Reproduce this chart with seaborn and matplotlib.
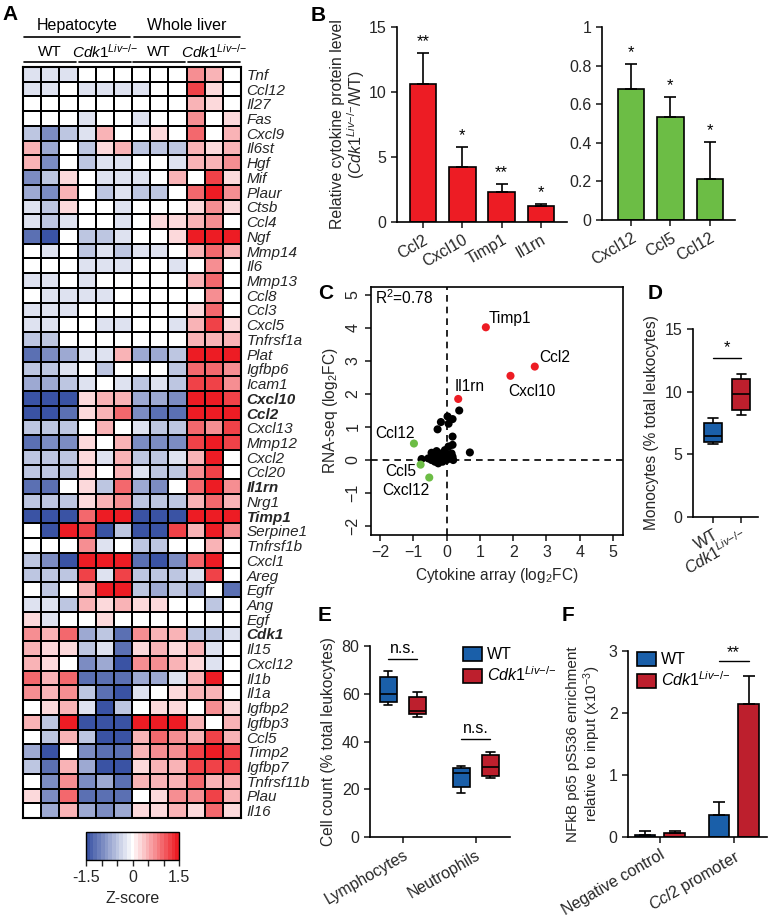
import numpy as np
import pandas as pd
import matplotlib
matplotlib.use('Agg')
import matplotlib.pyplot as plt
from matplotlib.colors import LinearSegmentedColormap
from matplotlib.patches import Patch
import seaborn as sns

# ---------------- data ----------------
genes = ['Tnf', 'Ccl12', 'Il27', 'Fas', 'Cxcl9', 'Il6st', 'Hgf', 'Mif', 'Plaur', 'Ctsb',
         'Ccl4', 'Ngf', 'Mmp14', 'Il6', 'Mmp13', 'Ccl8', 'Ccl3', 'Cxcl5', 'Tnfrsf1a', 'Plat',
         'Igfbp6', 'Icam1', 'Cxcl10', 'Ccl2', 'Cxcl13', 'Mmp12', 'Cxcl2', 'Ccl20', 'Il1rn', 'Nrg1',
         'Timp1', 'Serpine1', 'Tnfrsf1b', 'Cxcl1', 'Areg', 'Egfr', 'Ang', 'Egf', 'Cdk1', 'Il15',
         'Cxcl12', 'Il1b', 'Il1a', 'Igfbp2', 'Igfbp3', 'Ccl5', 'Timp2', 'Igfbp7', 'Tnfrsf11b',
         'Plau', 'Il16']
bold_genes = ['Cxcl10', 'Ccl2', 'Il1rn', 'Timp1', 'Cdk1']
samples = ['hep_wt1', 'hep_wt2', 'hep_wt3', 'hep_ko1', 'hep_ko2', 'hep_ko3',
           'liv_wt1', 'liv_wt2', 'liv_wt3', 'liv_ko1', 'liv_ko2', 'liv_ko3']
# z-scores, in quarter steps (6 -> 1.5)
z_quarters = [
    [-1, -1, -1, 0, 0, 0, 0, 0, 0, 3, 2, 0],
    [-1, -1, 0, -1, -1, -1, -1, 0, 0, 5, 1, 0],
    [0, 0, 0, 0, 0, 0, 0, 0, 0, 2, 1, 0],
    [0, 0, 0, -1, 0, 0, -1, 0, 0, 3, 0, 1],
    [-2, -4, -2, -1, 2, 0, 0, 1, 0, 4, 0, 2],
    [2, -3, 0, -2, 1, 2, -2, -2, -2, 2, 1, 2],
    [2, -4, 0, -2, -1, -1, 0, 0, -1, 2, 2, 3],
    [-4, -2, 1, 0, -1, -1, -1, 0, 2, 0, 5, 1],
    [-3, -4, 2, 0, -2, -1, -2, -2, 0, 4, 6, 3],
    [-1, -2, 1, 0, 0, -1, 0, 0, 0, 1, 3, 1],
    [-1, -2, -1, 0, 0, -1, 0, 1, 1, 2, 3, 0],
    [-5, -6, 0, -2, -2, -1, 0, 0, 1, 6, 6, 6],
    [0, -1, 0, -2, -1, -2, -1, -1, 0, 2, 4, 2],
    [0, 0, 0, -1, -1, -1, 0, 0, -1, 0, 3, 0],
    [-1, -1, 0, -1, 0, 0, 0, 0, 0, 2, 4, 0],
    [0, -1, -1, -1, -1, 0, 0, 0, 0, 0, 3, 0],
    [-1, -1, -1, 0, 0, 0, 0, 0, 0, 1, 4, 0],
    [-1, -1, 0, 0, -1, -1, 0, 0, -1, 2, 5, 1],
    [-2, -2, 0, 0, 0, 0, 0, 0, 0, 2, 2, 2],
    [-5, -4, -3, -1, -1, 2, -3, -3, -2, 6, 6, 6],
    [-2, -2, -1, 0, -2, 0, 0, 0, -2, 4, 4, 3],
    [-3, -3, -2, -1, 0, -1, -2, -1, -2, 5, 5, 3],
    [-6, -6, -6, 1, 2, 2, -3, -3, -4, 6, 6, 5],
    [-6, -6, -5, 1, 2, 4, -4, -5, -5, 6, 6, 6],
    [-2, -2, -2, 0, 2, 0, -1, -2, -2, 4, 3, 5],
    [-5, -4, -4, 1, 0, 2, -4, -4, -4, 5, 6, 5],
    [-2, -2, -2, 1, -1, 2, -2, -2, -1, 2, 6, 0],
    [-2, -2, -2, 1, 0, 2, -1, -2, -2, 3, 5, 0],
    [-5, -5, 0, 1, -2, 4, -3, -4, 0, 4, 6, 3],
    [-2, -2, -2, 1, 2, 3, -2, -2, -2, 2, 4, 2],
    [-6, -6, -6, 4, 6, 6, -6, -6, -6, 6, 6, 6],
    [0, -6, 6, 5, -6, -2, -6, -6, 5, 2, 6, 3],
    [0, 0, 0, 3, -1, 0, -2, -2, 0, 0, 2, 0],
    [-2, -4, -6, 6, 6, 6, -5, -6, -4, 4, 6, 0],
    [-2, -2, -2, 5, -1, 5, -2, -2, -2, -1, 5, 0],
    [0, -2, 0, 2, 6, 6, -2, -3, -2, -3, 0, -5],
    [-1, -1, -2, 2, 1, 2, 1, 1, 0, 0, -2, 0],
    [1, -1, 0, 0, 1, 0, 0, 0, 0, 0, 0, 0],
    [3, 2, 4, -3, -2, -5, 3, 2, 2, -2, -2, -1],
    [2, 1, 1, -2, -1, -5, 1, 2, 1, 2, -1, 0],
    [2, 1, 0, -4, -3, -6, 3, 3, 2, 1, -1, 0],
    [4, 2, 4, -5, -5, -5, -3, -3, -1, 2, 6, 0],
    [3, 2, 3, -2, -5, -6, -1, 0, 1, 2, 2, 0],
    [0, 1, 2, -1, -6, -2, 0, 1, 1, 0, 3, 1],
    [2, -2, 6, -6, -6, -6, 6, 6, 6, 2, 0, 2],
    [0, -2, 2, -2, -6, -6, 2, 4, 3, 2, 5, 2],
    [-3, -6, 0, -4, -5, -5, 2, 3, 3, 5, 6, 5],
    [-2, -5, 2, -3, -6, -6, 1, 2, 2, 5, 5, 5],
    [0, -4, 3, -4, -3, -5, 2, 2, 2, 4, 2, 2],
    [1, -4, 4, -5, -5, -5, 0, 1, 3, 3, 5, 2],
    [0, -3, 2, -3, -4, -3, 1, 1, 2, 1, 4, 1],
]

# panel B
b_up_names = ['Ccl2', 'Cxcl10', 'Timp1', 'Il1rn']
b_up_mean = [10.6, 4.2, 2.3, 1.2]
b_up_err = [2.4, 1.6, 0.62, 0.2]
b_up_sig = ['**', '*', '**', '*']
b_down_names = ['Cxcl12', 'Ccl5', 'Ccl12']
b_down_mean = [0.68, 0.535, 0.21]
b_down_err = [0.13, 0.10, 0.195]
b_down_sig = ['*', '*', '*']

# panel C
c_other_x = [0.38, 0.03, 0.18, 0.06, -0.17, -0.27, 0.18, 0.70, 0.18, 0.06, -0.05, -0.30, -0.45,
             -0.15, -0.75, -0.45, -0.30, -0.20, -0.05, 0.05, 0.15, 0.18, 0.10, 0.00, -0.25, -0.35,
             -0.12, 0.20, -0.55, -0.40]
c_other_y = [1.50, 1.32, 1.24, 1.10, 1.15, 0.93, 0.71, 0.23, 0.46, 0.41, 0.30, 0.27, 0.22,
             0.20, 0.03, 0.00, 0.05, 0.10, 0.12, 0.15, 0.20, 0.10, 0.05, 0.00, -0.10, -0.05,
             -0.05, 0.00, 0.05, 0.13]
c_up_names = ['Timp1', 'Ccl2', 'Cxcl10', 'Il1rn']
c_up_x = [1.18, 2.65, 1.92, 0.35]
c_up_y = [4.02, 2.83, 2.55, 1.85]
c_down_names = ['Ccl12', 'Ccl5', 'Cxcl12']
c_down_x = [-0.98, -0.78, -0.52]
c_down_y = [0.50, -0.14, -0.53]

# panel D (min, q1, median, q3, max)
d_wt = [5.83, 6.01, 6.49, 7.48, 7.88]
d_ko = [8.14, 8.51, 9.82, 11.04, 11.41]

# panel E (min, q1, median, q3, max)
e_lymph_wt = [55.2, 56.6, 60.1, 67.0, 69.5]
e_lymph_ko = [50.4, 51.5, 52.9, 58.5, 60.8]
e_neut_wt = [18.6, 20.8, 26.8, 28.8, 29.8]
e_neut_ko = [24.6, 25.5, 29.3, 34.3, 35.6]

# panel F
f_regions = ['Negative control', 'Ccl2 promoter']
f_wt_mean = [0.025, 0.355]
f_wt_err = [0.07, 0.215]
f_ko_mean = [0.06, 2.15]
f_ko_err = [0.04, 0.44]

# ---------------- style ----------------
sns.set_style('ticks')
plt.rcParams['font.family'] = ['Liberation Sans', 'DejaVu Sans']
plt.rcParams['mathtext.fontset'] = 'custom'
plt.rcParams['mathtext.rm'] = 'Liberation Sans'
plt.rcParams['mathtext.it'] = 'Liberation Sans:italic'
plt.rcParams['mathtext.bf'] = 'Liberation Sans:bold'
plt.rcParams['axes.linewidth'] = 1.2
plt.rcParams['xtick.major.width'] = 1.2
plt.rcParams['ytick.major.width'] = 1.2
plt.rcParams['xtick.major.size'] = 4
plt.rcParams['ytick.major.size'] = 4
plt.rcParams['xtick.labelsize'] = 11.5
plt.rcParams['ytick.labelsize'] = 11.5
plt.rcParams['axes.labelsize'] = 11.2
plt.rcParams['text.color'] = 'black'
plt.rcParams['axes.edgecolor'] = 'black'

KO = r'$\mathit{Cdk1}^{\mathit{Liv{-}/{-}}}$'
RED = '#ed1c24'
GREEN = '#6cbd45'
BLUE_BOX = '#1a5fa9'
RED_BOX = '#bd1f2d'

W, H = 768, 919
fig = plt.figure(figsize=(W / 100, H / 100), dpi=100)


def axes_px(x0, y0, x1, y1):
    return fig.add_axes([x0 / W, 1 - y1 / H, (x1 - x0) / W, (y1 - y0) / H])


def letter(x, y, s):
    fig.text(x / W, 1 - y / H, s, fontsize=15, fontweight='bold', ha='left', va='top')


# ---------------- A: heatmap ----------------
ax_hm = axes_px(23, 67, 241, 818)
ax_cb = axes_px(86, 832, 179, 860)
zdf = pd.DataFrame(np.array(z_quarters) / 4.0, index=genes, columns=samples)
cmap = LinearSegmentedColormap.from_list('bwr_fig', ['#3a53a4', '#ffffff', RED], N=25)
sns.heatmap(zdf, ax=ax_hm, cmap=cmap, vmin=-1.5, vmax=1.5, linewidths=1.3, linecolor='black',
            xticklabels=False, yticklabels=genes, cbar_ax=ax_cb,
            cbar_kws={'orientation': 'horizontal'})
ax_hm.yaxis.tick_right()
ax_hm.tick_params(axis='y', length=0, pad=4, labelsize=11, labelrotation=0)
for lbl in ax_hm.get_yticklabels():
    lbl.set_style('italic')
    if lbl.get_text() in bold_genes:
        lbl.set_weight('bold')
for sp in ax_hm.spines.values():
    sp.set_visible(True)
    sp.set_linewidth(1.5)

# header
hdr = dict(scalex=False, scaley=False, clip_on=False, color='black', lw=1.2)
ax_hm.plot([0.05, 5.9], [-2.05, -2.05], **hdr)
ax_hm.plot([6.1, 11.95], [-2.05, -2.05], **hdr)
ax_hm.text(3, -2.85, 'Hepatocyte', ha='center', va='center', fontsize=11.5)
ax_hm.text(9, -2.85, 'Whole liver', ha='center', va='center', fontsize=11.5)
for i, lab in enumerate(['WT', KO, 'WT', KO]):
    ax_hm.plot([3 * i + 0.08, 3 * i + 2.92], [-0.35, -0.35], **hdr)
    ax_hm.text(3 * i + 1.5, -1.05, lab, ha='center', va='center', fontsize=11)

cbar = ax_hm.collections[0].colorbar
cbar.outline.set_edgecolor('black')
cbar.outline.set_linewidth(1)
cbar.set_ticks([-1.5, -1, -0.5, 0, 0.5, 1, 1.5])
cbar.set_ticklabels(['-1.5', '', '', '0', '', '', '1.5'])
ax_cb.tick_params(labelsize=11.5, length=4, width=1)
cbar.set_label('Z-score', fontsize=11.5)
letter(2, 5, 'A')

# ---------------- B ----------------
ax_b1 = axes_px(397, 27, 567, 222)
sns.barplot(x=b_up_names, y=b_up_mean, ax=ax_b1, color=RED, edgecolor='black',
            linewidth=1.2, width=0.67, errorbar=None, saturation=1)
for bar, err, sig in zip(ax_b1.patches, b_up_err, b_up_sig):
    cx = bar.get_x() + bar.get_width() / 2
    top = bar.get_height()
    ax_b1.errorbar([cx], [top], yerr=[[0], [err]], fmt='none', ecolor='black',
                   elinewidth=1.2, capsize=4.5, capthick=1.2)
    ax_b1.text(cx, top + err + 0.3, sig, ha='center', va='bottom', fontsize=12)
ax_b1.set_ylim(0, 15)
ax_b1.set_yticks([0, 5, 10, 15])
ax_b1.set_xlim(-0.66, 3.66)
ax_b1.set_xticks(range(len(b_up_names)))
ax_b1.set_xticklabels(b_up_names, rotation=30, ha='right', rotation_mode='anchor')
ax_b1.set_ylabel('Relative cytokine protein level\n(' + KO + '/WT)', fontsize=11.4,
                 linespacing=1.05, labelpad=1)
sns.despine(ax=ax_b1)

ax_b2 = axes_px(602, 27, 735, 220)
sns.barplot(x=b_down_names, y=b_down_mean, ax=ax_b2, color=GREEN, edgecolor='black',
            linewidth=1.2, width=0.67, errorbar=None, saturation=1)
for bar, err, sig in zip(ax_b2.patches, b_down_err, b_down_sig):
    cx = bar.get_x() + bar.get_width() / 2
    top = bar.get_height()
    ax_b2.errorbar([cx], [top], yerr=[[0], [err]], fmt='none', ecolor='black',
                   elinewidth=1.2, capsize=4.5, capthick=1.2)
    ax_b2.text(cx, top + err + 0.02, sig, ha='center', va='bottom', fontsize=12)
ax_b2.set_ylim(0, 1)
ax_b2.set_yticks([0, 0.2, 0.4, 0.6, 0.8, 1])
ax_b2.set_yticklabels(['0', '0.2', '0.4', '0.6', '0.8', '1'])
ax_b2.set_xlim(-0.74, 2.64)
ax_b2.set_xticks(range(len(b_down_names)))
ax_b2.set_xticklabels(b_down_names, rotation=30, ha='right', rotation_mode='anchor')
sns.despine(ax=ax_b2)
letter(311, 6, 'B')

# ---------------- C ----------------
ax_c = axes_px(371, 287, 623, 535)
c_df = pd.DataFrame({
    'array': c_other_x + c_up_x + c_down_x,
    'rnaseq': c_other_y + c_up_y + c_down_y,
    'group': ['other'] * len(c_other_x) + ['up'] * len(c_up_x) + ['down'] * len(c_down_x),
})
ax_c.axvline(0, ls='--', color='black', lw=1.2, dashes=(4, 3))
ax_c.axhline(0, ls='--', color='black', lw=1.2, dashes=(4, 3))
sns.scatterplot(data=c_df, x='array', y='rnaseq', hue='group',
                palette={'other': 'black', 'up': RED, 'down': GREEN},
                s=34, edgecolor='none', legend=False, ax=ax_c, zorder=3)
c_lab_pos = {'Timp1': (1.25, 4.28, 'left'), 'Ccl2': (2.78, 3.1, 'left'),
             'Cxcl10': (1.85, 2.08, 'left'), 'Il1rn': (0.25, 2.23, 'left'),
             'Ccl12': (-2.13, 0.81, 'left'), 'Ccl5': (-1.85, -0.36, 'left'),
             'Cxcl12': (-1.93, -0.91, 'left')}
for name in c_up_names + c_down_names:
    x, y, ha = c_lab_pos[name]
    ax_c.text(x, y, name, ha=ha, va='center', fontsize=11.2)
ax_c.text(-2.15, 4.93, r'R$^2$=0.78', ha='left', va='center', fontsize=11.2)
ax_c.set_xlim(-2.27, 5.3)
ax_c.set_ylim(-2.27, 5.24)
ax_c.set_xticks(range(-2, 6))
ax_c.set_yticks(range(-2, 6))
ax_c.tick_params(axis='y', labelrotation=90)
for lbl in ax_c.get_yticklabels():
    lbl.set_va('center')
ax_c.set_xlabel(r'Cytokine array (log$_2$FC)')
ax_c.set_ylabel(r'RNA-seq (log$_2$FC)')
letter(318, 284, 'C')

# ---------------- D ----------------
ax_d = axes_px(693, 329, 758, 517)
d_df = pd.DataFrame({'genotype': ['WT'] * len(d_wt) + ['KO'] * len(d_ko), 'pct': d_wt + d_ko})
sns.boxplot(data=d_df, x='genotype', y='pct', hue='genotype', palette=[BLUE_BOX, RED_BOX],
            whis=(0, 100), linecolor='black', linewidth=1.2, width=0.65, legend=False,
            saturation=1, ax=ax_d)
ax_d.plot([0, 1], [12.7, 12.7], color='black', lw=1)
ax_d.text(0.5, 12.9, '*', ha='center', va='bottom', fontsize=12)
ax_d.set_ylim(0, 15)
ax_d.set_yticks([0, 5, 10, 15])
ax_d.set_xlim(-0.71, 1.6)
ax_d.set_xticks([0, 1])
ax_d.set_xticklabels(['WT', KO], rotation=30, ha='right', rotation_mode='anchor')
ax_d.set_xlabel('')
ax_d.set_ylabel('Monocytes (% total leukocytes)')
sns.despine(ax=ax_d)
letter(648, 284, 'D')

# ---------------- E ----------------
ax_e = axes_px(370, 646, 510, 837)
e_df = pd.DataFrame({
    'cell': ['Lymphocytes'] * 10 + ['Neutrophils'] * 10,
    'genotype': (['WT'] * 5 + ['KO'] * 5) * 2,
    'pct': e_lymph_wt + e_lymph_ko + e_neut_wt + e_neut_ko,
})
sns.boxplot(data=e_df, x='cell', y='pct', hue='genotype', hue_order=['WT', 'KO'],
            palette=[BLUE_BOX, RED_BOX], whis=(0, 100), linecolor='black', linewidth=1.2,
            width=0.8, gap=0.42, legend=False, saturation=1, ax=ax_e)
for cx, y in [(0, 74.6), (1, 41.0)]:
    ax_e.plot([cx - 0.2, cx + 0.2], [y, y], color='black', lw=1)
    ax_e.text(cx, y + 1.2, 'n.s.', ha='center', va='bottom', fontsize=11.5)
ax_e.set_ylim(0, 80)
ax_e.set_yticks([0, 20, 40, 60, 80])
ax_e.set_xlim(-0.45, 1.47)
ax_e.set_xticks([0, 1])
ax_e.set_xticklabels(['Lymphocytes', 'Neutrophils'], rotation=30, ha='right',
                     rotation_mode='anchor')
ax_e.set_xlabel('')
ax_e.set_ylabel('Cell count (% total leukocytes)')
sns.despine(ax=ax_e)
handles = [Patch(facecolor=BLUE_BOX, edgecolor='black', lw=1.2),
           Patch(facecolor=RED_BOX, edgecolor='black', lw=1.2)]
ax_e.legend(handles, ['WT', KO], loc='upper left', bbox_to_anchor=(0.62, 1.03),
            frameon=False, handlelength=1.2, handleheight=1.0, handletextpad=0.3,
            labelspacing=0.2, borderaxespad=0, fontsize=11.5)
letter(318, 606, 'E')

# ---------------- F ----------------
ax_f = axes_px(628, 651, 767, 837)
f_df = pd.DataFrame({
    'region': f_regions * 2,
    'genotype': ['WT'] * 2 + ['KO'] * 2,
    'val': f_wt_mean + f_ko_mean,
})
sns.barplot(data=f_df, x='region', y='val', hue='genotype', hue_order=['WT', 'KO'],
            palette=[BLUE_BOX, RED_BOX], edgecolor='black', linewidth=1.2, width=0.8,
            gap=0.3, errorbar=None, legend=False, saturation=1, ax=ax_f)
f_errs = f_wt_err + f_ko_err
centers = []
for bar, err in zip(ax_f.patches, f_errs):
    cx = bar.get_x() + bar.get_width() / 2
    top = bar.get_height()
    centers.append(cx)
    ax_f.errorbar([cx], [top], yerr=[[0], [err]], fmt='none', ecolor='black',
                  elinewidth=1.2, capsize=4.5, capthick=1.2)
ax_f.plot([centers[1], centers[3]], [2.84, 2.84], color='black', lw=1)
ax_f.text((centers[1] + centers[3]) / 2, 2.86, '**', ha='center', va='bottom', fontsize=12)
ax_f.set_ylim(0, 3)
ax_f.set_yticks([0, 1, 2, 3])
ax_f.set_xlim(-0.43, 1.45)
ax_f.set_xticks([0, 1])
ax_f.set_xticklabels(['Negative control', r'$\mathit{Ccl2}$ promoter'], rotation=30,
                     ha='right', rotation_mode='anchor')
ax_f.set_xlabel('')
ax_f.set_ylabel('NFkB p65 pS536 enrichment\nrelative to input (x10$^{-3}$)', fontsize=11,
                linespacing=1.1)
sns.despine(ax=ax_f)
ax_f.legend(handles, ['WT', KO], loc='upper left', bbox_to_anchor=(0.02, 1.03),
            frameon=False, handlelength=1.2, handleheight=1.0, handletextpad=0.3,
            labelspacing=0.2, borderaxespad=0, fontsize=11.5)
letter(562, 606, 'F')

fig.savefig('out.png', dpi=100)
